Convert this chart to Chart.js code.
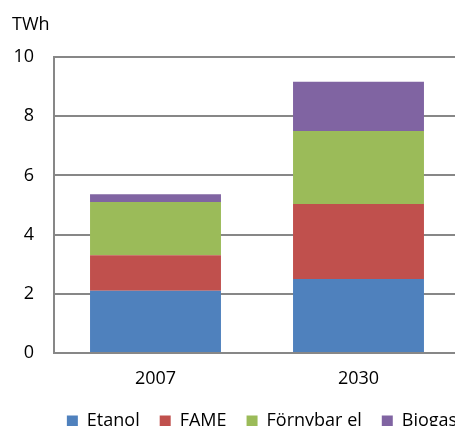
<!DOCTYPE html>
<html><head><meta charset="utf-8">
<script src="https://cdn.jsdelivr.net/npm/chart.js@4"></script>
<style>html,body{margin:0;padding:0;background:#fff;overflow:hidden}#wrap{width:455px;height:426px;overflow:hidden;position:relative}canvas{display:block}</style>
</head><body><div id="wrap"><canvas id="c" width="525" height="426" style="width:525px;height:426px"></canvas></div>
<script>
const categories = ['2007', '2030'];
const etanol = [2.1, 2.5];
const fame = [1.2, 2.53];
const fornybarEl = [1.8, 2.47];
const biogas = [0.26, 1.66];
const seriesNames = ['Etanol', 'FAME', 'Förnybar el', 'Biogas'];
const seriesColors = ['#4F81BD', '#C0504D', '#9BBB59', '#8064A2'];
const yMin = 0, yMax = 10, yStep = 2;
const unitLabel = 'TWh';

const FONT = {family: '"Open Sans", sans-serif', size: 18};
const GRID = '#878787';

const unitPlugin = {
  id: 'unit',
  afterLayout(chart) {
    // Excel legend is centred on a wider frame than the plot: shift it
    const lg = chart.legend;
    if (lg) { lg.left += 32; lg.right += 32; lg.top += 2; lg.bottom += 2; }
  },
  afterDraw(chart) {
    const ctx = chart.ctx;
    ctx.save();
    ctx.font = '18px "Open Sans", sans-serif';
    ctx.fillStyle = '#000';
    ctx.textBaseline = 'middle';
    ctx.textAlign = 'left';
    ctx.fillText(unitLabel, 12, 25);
    ctx.restore();
  }
};

new Chart(document.getElementById('c'), {
  type: 'bar',
  data: {
    labels: categories,
    datasets: [etanol, fame, fornybarEl, biogas].map((d, i) => ({
      label: seriesNames[i],
      data: d,
      backgroundColor: seriesColors[i],
      borderWidth: 0,
      barPercentage: 0.645,
      categoryPercentage: 1
    }))
  },
  options: {
    responsive: false,
    animation: false,
    layout: {padding: {top: 57, right: 65, left: 0, bottom: -12}},
    plugins: {
      tooltip: {enabled: false},
      legend: {
        position: 'bottom',
        labels: {boxWidth: 11, boxHeight: 11, padding: 20, color: '#000', font: FONT}
      }
    },
    scales: {
      x: {
        stacked: true,
        afterFit(s) { s.height = 37; },
        grid: {display: false, drawTicks: false},
        border: {display: true, color: GRID, width: 2},
        ticks: {color: '#000', font: FONT, padding: 15}
      },
      y: {
        stacked: true,
        min: yMin, max: yMax,
        afterFit(s) { s.width = 54; },
        grid: {color: GRID, lineWidth: 2, drawTicks: false},
        border: {display: true, color: GRID, width: 2},
        ticks: {stepSize: yStep, color: '#000', font: FONT, padding: 20}
      }
    }
  },
  plugins: [unitPlugin]
});
</script></body></html>
